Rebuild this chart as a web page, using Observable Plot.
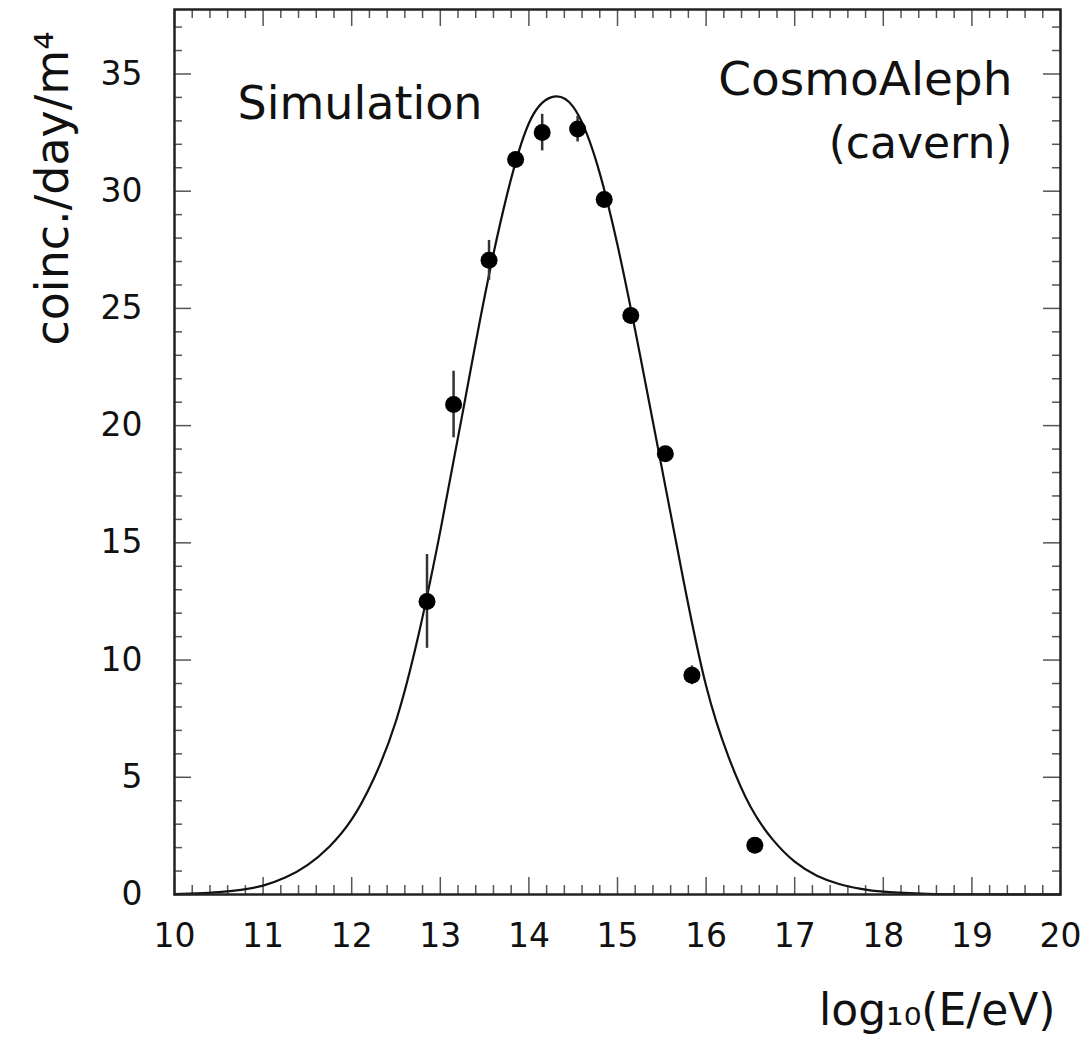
<!DOCTYPE html>
<html>
<head>
<meta charset="utf-8">
<script src="https://cdn.jsdelivr.net/npm/d3@7"></script>
<script src="https://cdn.jsdelivr.net/npm/@observablehq/plot@0.6"></script>
<style>
  html, body { margin: 0; padding: 0; background: #fff; }
  #chart svg { display: block; }
</style>
</head>
<body>
<div id="chart"></div>
<script>
// Simulated coincidence rate per energy bin (points with statistical errors)
const energy  = [12.85, 13.15, 13.55, 13.85, 14.15, 14.55, 14.85, 15.15, 15.54, 15.84, 16.55];
const rate    = [12.5, 20.9, 27.05, 31.35, 32.5, 32.65, 29.65, 24.7, 18.8, 9.35, 2.1];
const rateErr = [2.0, 1.42, 0.85, 0.3, 0.78, 0.55, 0.35, 0.3, 0.3, 0.4, 0.2];

// Expected rate curve
const simEnergy = [10, 10.25, 10.5, 10.75, 11, 11.25, 11.5, 11.75, 12, 12.25, 12.5, 12.75,
                   13, 13.25, 13.5, 13.75, 14, 14.25, 14.5, 14.75, 15, 15.25, 15.5, 15.75,
                   16, 16.25, 16.5, 16.75, 17, 17.25, 17.5, 17.75, 18, 18.5, 19, 19.5, 20];
const simRate   = [0.02, 0.05, 0.1, 0.2, 0.38, 0.72, 1.25, 2.05, 3.2, 4.95, 7.4, 11.0,
                   15.5, 20.5, 25.5, 29.8, 32.9, 34.0, 33.6, 31.4, 27.7, 23.1, 18.2, 13.3,
                   8.9, 5.9, 3.75, 2.35, 1.4, 0.8, 0.45, 0.24, 0.12, 0.03, 0.01, 0.003, 0.001];

// Axis ticks
const xMajor = [10, 11, 12, 13, 14, 15, 16, 17, 18, 19, 20];
const yMajor = [0, 5, 10, 15, 20, 25, 30, 35];
const xMinor = d3.range(0, 51).map(i => 10 + i * 0.2).filter(v => Math.abs(v - Math.round(v)) > 1e-6);
const yMinor = d3.range(1, 38).filter(v => v % 5 !== 0);

const W = 1088, H = 1040;
const margin = {top: 9, right: 28, bottom: 146, left: 174};
const fw = W - margin.left - margin.right;
const fh = H - margin.top - margin.bottom;

const points = energy.map((x, i) => ({x, y: rate[i], lo: rate[i] - rateErr[i], hi: rate[i] + rateErr[i]}));
const sim = simEnergy.map((x, i) => ({x, y: simRate[i]}));

const tickStyle = {stroke: "#555", strokeWidth: 1.5};
const font = "DejaVu Sans";

const chart = Plot.plot({
  width: W,
  height: H,
  marginTop: margin.top,
  marginRight: margin.right,
  marginBottom: margin.bottom,
  marginLeft: margin.left,
  x: {domain: [10, 20]},
  y: {domain: [0, 37.75]},
  style: {fontFamily: font, fontSize: "33px", color: "#111", background: "#fff"},
  marks: [
    // inward ticks on all four sides
    Plot.tickX(xMinor, {x: d => d, insetTop: fh - 9, ...tickStyle}),
    Plot.tickX(xMinor, {x: d => d, insetBottom: fh - 9, ...tickStyle}),
    Plot.tickX(xMajor, {x: d => d, insetTop: fh - 17, ...tickStyle}),
    Plot.tickX(xMajor, {x: d => d, insetBottom: fh - 17, ...tickStyle}),
    Plot.tickY(yMinor, {y: d => d, insetRight: fw - 8, ...tickStyle}),
    Plot.tickY(yMinor, {y: d => d, insetLeft: fw - 8, ...tickStyle}),
    Plot.tickY(yMajor, {y: d => d, insetRight: fw - 17, ...tickStyle}),
    Plot.tickY(yMajor, {y: d => d, insetLeft: fw - 17, ...tickStyle}),

    // expectation curve
    Plot.line(sim, {x: "x", y: "y", curve: "natural", stroke: "#111", strokeWidth: 2.2}),

    // error bars and points
    Plot.ruleX(points, {x: "x", y1: "lo", y2: "hi", stroke: "#333", strokeWidth: 2.5}),
    Plot.dot(points, {x: "x", y: "y", r: 8.5, fill: "#000", stroke: null}),

    Plot.frame({stroke: "#222", strokeWidth: 2.5}),

    Plot.axisX({ticks: xMajor, tickSize: 0, tickPadding: 29, fontSize: 33, label: null, tickFormat: d => String(d)}),
    Plot.axisY({ticks: yMajor, tickSize: 0, tickPadding: 32, fontSize: 33, label: null, tickFormat: d => String(d)}),

    // annotations
    Plot.text(["Simulation"], {frameAnchor: "top-left", dx: 63, dy: 95, textAnchor: "start", lineAnchor: "middle", fontSize: 46, fill: "#111"}),
    Plot.text(["CosmoAleph"], {frameAnchor: "top-right", dx: -48, dy: 70, textAnchor: "end", lineAnchor: "middle", fontSize: 47, fill: "#111"}),
    Plot.text(["(cavern)"], {frameAnchor: "top-right", dx: -48, dy: 134, textAnchor: "end", lineAnchor: "middle", fontSize: 44, fill: "#111"}),

    // axis titles
    Plot.text(["log₁₀(E/eV)"], {frameAnchor: "bottom-right", dx: -5, dy: 116, textAnchor: "end", lineAnchor: "middle", fontSize: 44, fill: "#111"}),
    Plot.text(["coinc./day/m⁴"], {frameAnchor: "top-left", dx: -107, dy: 179, rotate: -90, textAnchor: "middle", lineAnchor: "bottom", fontSize: 46, fill: "#111"})
  ]
});

document.getElementById("chart").appendChild(chart);
</script>
</body>
</html>
